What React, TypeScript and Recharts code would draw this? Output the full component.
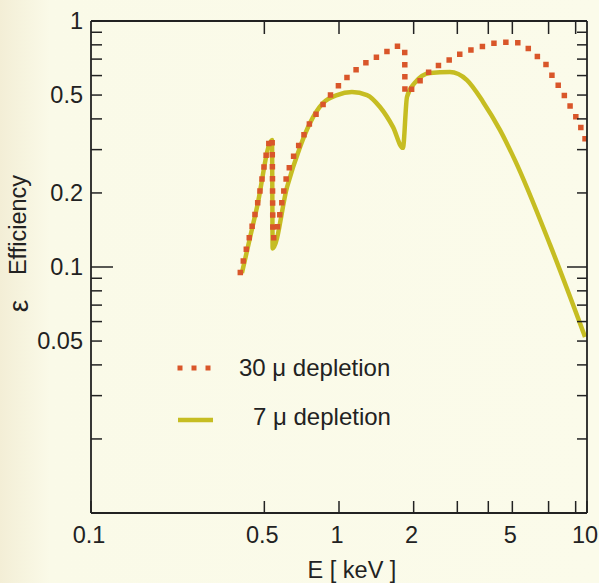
import { Legend, Line, LineChart, XAxis, YAxis } from "recharts";

// 30 micron depletion (dotted)
const E_30 = [
  0.4, 0.467, 0.537, 0.542, 0.62, 0.716, 0.764, 0.815, 0.878, 0.946, 1.03,
  1.13, 1.24, 1.37, 1.55, 1.71, 1.84, 1.845, 2.08, 2.28, 2.53, 2.83, 3.13,
  3.53, 3.99, 4.5, 5.08, 5.73, 6.29, 6.9, 7.29, 7.78, 8.3, 8.79, 9.29, 9.72,
  9.9,
];
const EFF_30 = [
  0.095, 0.177, 0.335, 0.131, 0.24, 0.338, 0.385, 0.423, 0.469, 0.515, 0.565,
  0.615, 0.662, 0.7, 0.748, 0.79, 0.775, 0.51, 0.56, 0.615, 0.662, 0.7, 0.74,
  0.77, 0.8, 0.82, 0.82, 0.78, 0.72, 0.656, 0.592, 0.534, 0.477, 0.427, 0.385,
  0.341, 0.325,
];

// 7 micron depletion (solid)
const E_7 = [
  0.406, 0.467, 0.537, 0.54, 0.617, 0.696, 0.764, 0.862, 0.982, 1.128, 1.297,
  1.463, 1.65, 1.81, 1.88, 2.02, 2.33, 2.8, 3.28, 3.81, 4.46, 5.12, 7.1, 9.82,
];
const EFF_7 = [
  0.0945, 0.175, 0.328, 0.119, 0.211, 0.307, 0.385, 0.464, 0.5, 0.514, 0.5,
  0.447, 0.371, 0.305, 0.491, 0.56, 0.615, 0.62, 0.575, 0.469, 0.36, 0.272,
  0.123, 0.052,
];

const X_TICKS = [0.1, 0.5, 1, 2, 3, 4, 5, 7, 9, 10];
const X_LABELS = [0.1, 0.5, 1, 2, 5, 10];
const Y_TICKS = [
  1, 0.9, 0.8, 0.7, 0.6, 0.5, 0.4, 0.3, 0.2, 0.1, 0.09, 0.08, 0.07, 0.06,
  0.05, 0.04, 0.03, 0.02,
];
const Y_LABELS = [1, 0.5, 0.2, 0.1, 0.05];

const data30 = E_30.map((e, i) => ({ e, eff: EFF_30[i] }));
const data7 = E_7.map((e, i) => ({ e, eff: EFF_7[i] }));

const FONT = '"Liberation Sans", Arial, Helvetica, sans-serif';
const INK = "#222";
const RED = "#d9562a";
const YELLOW = "#c6bd22";
const FS = 23.5;

const BottomTick = ({ x, y, payload }: any) => (
  <g>
    <line x1={x} y1={y} x2={x} y2={y - 12} stroke={INK} strokeWidth={1.5} />
    {X_LABELS.includes(payload.value) && (
      <text x={x - 2} y={y + 30} textAnchor="middle" fontSize={FS} fill={INK} fontFamily={FONT}>
        {payload.value}
      </text>
    )}
  </g>
);

const TopTick = ({ x, y, payload }: any) =>
  payload.value === 0.1 || payload.value === 10 ? (
    <g />
  ) : (
    <line x1={x} y1={y} x2={x} y2={y + 13} stroke={INK} strokeWidth={1.5} />
  );

const LeftTick = ({ x, y, payload }: any) => (
  <g>
    <line
      x1={x}
      y1={y}
      x2={x + (payload.value === 0.1 ? 22 : 11)}
      y2={y}
      stroke={INK}
      strokeWidth={1.5}
    />
    {Y_LABELS.includes(payload.value) && (
      <text x={x - 8} y={y + 8} textAnchor="end" fontSize={FS} fill={INK} fontFamily={FONT}>
        {payload.value}
      </text>
    )}
  </g>
);

const RightTick = ({ x, y, payload }: any) =>
  payload.value === 1 ? (
    <g />
  ) : (
    <line
      x1={x}
      y1={y}
      x2={x - (payload.value === 0.1 ? 20 : 10)}
      y2={y}
      stroke={INK}
      strokeWidth={1.5}
    />
  );

const renderLegend = () => (
  <svg width={260} height={90} style={{ overflow: "visible" }}>
    <line
      x1={10}
      y1={16}
      x2={40}
      y2={16}
      stroke={RED}
      strokeWidth={5}
      strokeDasharray="0 14"
      strokeLinecap="square"
    />
    <text x={69} y={24} fontSize={24} fill={INK} fontFamily={FONT}>
      30 μ depletion
    </text>
    <line x1={8} y1={68} x2={43} y2={68} stroke={YELLOW} strokeWidth={4.5} />
    <text x={83} y={73} fontSize={24} fill={INK} fontFamily={FONT}>
      7 μ depletion
    </text>
  </svg>
);

export default function App() {
  return (
    <div
      style={{
        position: "absolute",
        left: 0,
        top: 0,
        width: 599,
        height: 583,
        background: "linear-gradient(to right, #f3eed6 0px, #fafae8 50px, #fbfbea 100%)",
        fontFamily: FONT,
        color: INK,
      }}
    >
      <LineChart
        width={599}
        height={583}
        margin={{ top: 20, right: 11, bottom: 30, left: 31 }}
      >
        <XAxis
          dataKey="e"
          type="number"
          scale="log"
          domain={[0.1, 10]}
          allowDataOverflow
          ticks={X_TICKS}
          interval={0}
          height={40}
          tickSize={0}
          tickMargin={0}
          tickLine={false}
          tick={BottomTick}
          axisLine={{ stroke: INK, strokeWidth: 1.8 }}
        />
        <XAxis
          xAxisId="top"
          orientation="top"
          dataKey="e"
          type="number"
          scale="log"
          domain={[0.1, 10]}
          allowDataOverflow
          ticks={X_TICKS}
          interval={0}
          height={1}
          tickSize={0}
          tickMargin={0}
          tickLine={false}
          tick={TopTick}
          axisLine={{ stroke: INK, strokeWidth: 1.8 }}
        />
        <YAxis
          type="number"
          scale="log"
          domain={[0.01, 1]}
          allowDataOverflow
          ticks={Y_TICKS}
          interval={0}
          width={60}
          tickSize={0}
          tickMargin={0}
          tickLine={false}
          tick={LeftTick}
          axisLine={{ stroke: INK, strokeWidth: 1.8 }}
        />
        <YAxis
          yAxisId="right"
          orientation="right"
          type="number"
          scale="log"
          domain={[0.01, 1]}
          allowDataOverflow
          ticks={Y_TICKS}
          interval={0}
          width={1}
          tickSize={0}
          tickMargin={0}
          tickLine={false}
          tick={RightTick}
          axisLine={{ stroke: INK, strokeWidth: 1.8 }}
        />
        <Line
          data={data7}
          dataKey="eff"
          name="7 μ depletion"
          type="monotone"
          stroke={YELLOW}
          strokeWidth={4.5}
          dot={false}
          isAnimationActive={false}
        />
        <Line
          data={data30}
          dataKey="eff"
          name="30 μ depletion"
          type="monotone"
          stroke={RED}
          strokeWidth={5.5}
          strokeDasharray="0 12"
          strokeLinecap="square"
          dot={false}
          isAnimationActive={false}
        />
        <Legend
          layout="vertical"
          align="center"
          verticalAlign="middle"
          content={renderLegend}
          wrapperStyle={{ left: 170, top: 352, width: 260, height: 90 }}
        />
      </LineChart>
      <div
        style={{
          position: "absolute",
          left: 18,
          top: 225,
          transform: "translate(-50%, -50%) rotate(-90deg)",
          fontSize: FS,
          whiteSpace: "nowrap",
        }}
      >
        Efficiency
      </div>
      <div
        style={{
          position: "absolute",
          left: 19,
          top: 306,
          transform: "translate(-50%, -50%) rotate(-90deg)",
          fontSize: 28,
          whiteSpace: "nowrap",
        }}
      >
        ε
      </div>
      <div
        style={{
          position: "absolute",
          left: 352,
          top: 570,
          transform: "translate(-50%, -50%)",
          fontSize: FS,
          whiteSpace: "nowrap",
        }}
      >
        E [ keV ]
      </div>
    </div>
  );
}
